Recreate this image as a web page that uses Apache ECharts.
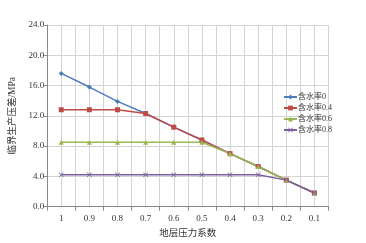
<!DOCTYPE html>
<html><head><meta charset="utf-8">
<script src="https://cdn.jsdelivr.net/npm/echarts@6/dist/echarts.min.js"></script>
<style>html,body{margin:0;padding:0;background:#fff}#c{width:366px;height:243px}</style>
</head><body><div id="c"></div>
<script>
const categories = ['1','0.9','0.8','0.7','0.6','0.5','0.4','0.3','0.2','0.1'];
const seriesNames = ['含水率0','含水率0.4','含水率0.6','含水率0.8'];
const s0 = [17.6,15.8,13.9,12.3,10.5,8.8,7.0,5.3,3.5,1.8];
const s04 = [12.8,12.8,12.8,12.3,10.5,8.8,7.0,5.3,3.5,1.8];
const s06 = [8.5,8.5,8.5,8.5,8.5,8.5,7.0,5.3,3.5,1.8];
const s08 = [4.2,4.2,4.2,4.2,4.2,4.2,4.2,4.2,3.5,1.8];
const yTicks = [0,4,8,12,16,20,24];
const colors = ['#4a7ebb','#be4b48','#98b954','#7d60a0'];
const xSym = 'path://M0,1L1,0L5,4L9,0L10,1L6,5L10,9L9,10L5,6L1,10L0,9L4,5Z';
const symbols = ['diamond','rect','triangle',xSym];
const sizes = [5,5,5,5];
const data = [s0,s04,s06,s08];
const font = "'Liberation Serif','Noto Sans CJK SC',serif";
const chart = echarts.init(document.getElementById('c'));
chart.setOption({
  animation:false,
  textStyle:{fontFamily:font},
  grid:{left:42,right:37.5,top:25,bottom:35,containLabel:false},
  legend:{
    orient:'vertical', left:278, top:88, itemGap:3, itemWidth:13, itemHeight:6,
    textStyle:{fontSize:8, color:'#333', fontFamily:font, padding:[0,0,0,-4]},
    data:seriesNames
  },
  xAxis:[{
    type:'category', data:categories, boundaryGap:true,
    name:'地层压力系数', nameLocation:'middle', nameGap:20,
    nameTextStyle:{fontSize:9.5,color:'#333',fontFamily:font},
    axisLine:{lineStyle:{color:'#888'}},
    axisTick:{show:true,length:4,lineStyle:{color:'#888'}},
    axisLabel:{fontSize:9,color:'#333',margin:8,fontFamily:font},
    splitLine:{show:false}
  },{
    type:'value', min:0, max:20, interval:1, position:'top',
    axisLine:{show:false}, axisTick:{show:false}, axisLabel:{show:false},
    splitLine:{show:true,lineStyle:{color:'#d4d4d4',width:1}}
  }],
  yAxis:{
    type:'value', min:yTicks[0], max:yTicks[yTicks.length-1], interval:4,
    name:'临界生产压差/MPa', nameLocation:'middle', nameGap:28,
    nameTextStyle:{fontSize:9.5,color:'#333',fontFamily:font},
    axisLine:{show:true,lineStyle:{color:'#888'}},
    axisTick:{show:true,length:3,lineStyle:{color:'#888'}},
    axisLabel:{fontSize:9,color:'#333',margin:3,fontFamily:font,formatter:v=>v.toFixed(1)},
    splitLine:{show:true,lineStyle:{color:'#d4d4d4',width:1}}
  },
  series:data.map((d,i)=>({
    name:seriesNames[i], type:'line', data:d, xAxisIndex:0,
    symbol:symbols[i], symbolSize:sizes[i], showAllSymbol:true,
    lineStyle:{color:colors[i],width:1.5},
    itemStyle:{color:colors[i]},
    emphasis:{disabled:true}
  }))
});
</script></body></html>
